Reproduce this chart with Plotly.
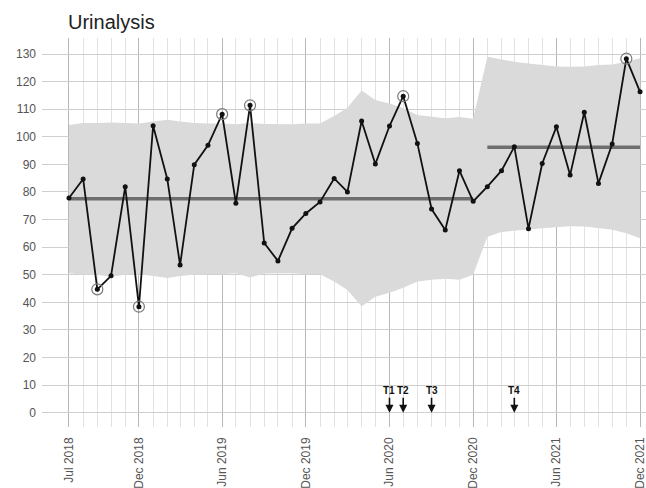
import pandas as pd
import plotly.graph_objects as go

# Monthly urinalysis measure, Jul 2018 - Dec 2021
months = pd.date_range("2018-07-01", "2021-12-01", freq="MS")
values = [77.8, 84.7, 44.7, 49.6, 81.9, 38.4, 104.0, 84.7, 53.5, 89.9,
          96.9, 108.2, 75.9, 111.4, 61.5, 55.0, 66.8, 72.2, 76.4, 84.9,
          80.0, 105.7, 90.1, 103.9, 114.7, 97.6, 73.8, 66.2, 87.7, 76.6,
          81.9, 87.7, 96.4, 66.7, 90.3, 103.6, 86.1, 108.9, 83.1, 97.4,
          128.3, 116.3]
upper_limit = [104.3, 105.0, 105.0, 105.2, 105.0, 104.8, 105.5, 106.2, 105.5, 105.0,
               104.8, 104.8, 104.5, 105.0, 104.6, 104.5, 104.5, 104.8, 104.8, 107.5,
               110.5, 116.8, 113.3, 112.1, 110.3, 107.9, 107.2, 106.7, 107.2, 106.5,
               129.0, 128.0, 127.2, 126.6, 126.0, 125.5, 125.4, 125.5, 126.0, 126.2,
               127.2, 128.5]
lower_limit = [50.5, 50.0, 50.0, 49.3, 50.0, 50.2, 49.5, 48.8, 49.5, 50.0,
               50.2, 50.2, 50.5, 49.0, 50.4, 50.5, 50.5, 50.2, 50.2, 47.5,
               44.5, 38.5, 42.0, 43.5, 45.3, 47.5, 48.2, 48.5, 48.2, 50.0,
               63.8, 65.5, 66.0, 66.4, 66.8, 67.3, 67.6, 67.5, 67.0, 66.3,
               65.0, 63.2]
# Centre line per phase: (first month index, last month index, level)
phases = [(0, 29, 77.5), (30, 41, 96.2)]

# Intervention markers
events = ["T1", "T2", "T3", "T4"]
event_dates = ["2020-06-01", "2020-07-01", "2020-09-01", "2021-03-01"]

tick_dates = ["2018-07-01", "2018-12-01", "2019-06-01", "2019-12-01",
              "2020-06-01", "2020-12-01", "2021-06-01", "2021-12-01"]
tick_text = ["Jul 2018", "Dec 2018", "Jun 2019", "Dec 2019",
             "Jun 2020", "Dec 2020", "Jun 2021", "Dec 2021"]

fig = go.Figure()

# Control-limit band
fig.add_trace(go.Scatter(x=months, y=upper_limit, mode="lines",
                         line=dict(width=0, color="#dadada"), hoverinfo="skip"))
fig.add_trace(go.Scatter(x=months, y=lower_limit, mode="lines", fill="tonexty",
                         fillcolor="#dadada", line=dict(width=0, color="#dadada"),
                         hoverinfo="skip"))

# Centre lines
for start, end, level in phases:
    fig.add_trace(go.Scatter(x=[months[start], months[end]], y=[level, level],
                             mode="lines", line=dict(color="#6e6e6e", width=3.5),
                             hoverinfo="skip"))

# Measured values
fig.add_trace(go.Scatter(x=months, y=values, mode="lines+markers",
                         line=dict(color="#111111", width=1.8),
                         marker=dict(color="#111111", size=5)))

# Ring the points outside the control limits
sig_x = [m for m, v, u, l in zip(months, values, upper_limit, lower_limit) if v > u or v < l]
sig_y = [v for v, u, l in zip(values, upper_limit, lower_limit) if v > u or v < l]
fig.add_trace(go.Scatter(x=sig_x, y=sig_y, mode="markers",
                         marker=dict(symbol="circle-open", size=11,
                                     color="#7a7a7a", line=dict(width=1.2))))

for label, d in zip(events, event_dates):
    fig.add_annotation(x=d, y=0, xref="x", yref="y", text=f"<b>{label}</b>",
                       showarrow=True, arrowhead=2, arrowsize=1, arrowwidth=1.6,
                       arrowcolor="#111111", ax=0, ay=-22,
                       font=dict(family="Liberation Sans, Arial, sans-serif",
                                 size=10, color="#111111"))

fig.update_layout(
    width=646, height=488,
    margin=dict(l=42, r=0, t=38, b=61),
    paper_bgcolor="white", plot_bgcolor="white",
    showlegend=False,
    font=dict(family="Liberation Sans, Arial, sans-serif", color="#555555", size=12),
    title=dict(text="Urinalysis", x=68 / 646, xref="container", xanchor="left",
               y=1 - 15 / 488, yref="container", yanchor="top",
               font=dict(size=20, color="#222222")),
    xaxis=dict(
        type="date",
        range=["2018-05-03", "2021-12-14"],
        tickmode="array", tickvals=tick_dates, ticktext=tick_text,
        tickangle=-90, showgrid=True, gridcolor="#b8b8b8", gridwidth=1,
        zeroline=False, showline=False, ticks="",
        ticklabelstandoff=7, ticklabeloverflow="allow",
        minor=dict(tickmode="array", tickvals=list(months),
                   showgrid=True, gridcolor="#e2e2e2", gridwidth=1),
    ),
    yaxis=dict(
        range=[-5.2, 135.8], tickmode="array", tickvals=list(range(0, 131, 10)),
        showgrid=True, gridcolor="#cfcfcf", gridwidth=1,
        zeroline=False, showline=False, ticks="", ticklabelstandoff=5,
    ),
)

fig.write_html("out.html")
